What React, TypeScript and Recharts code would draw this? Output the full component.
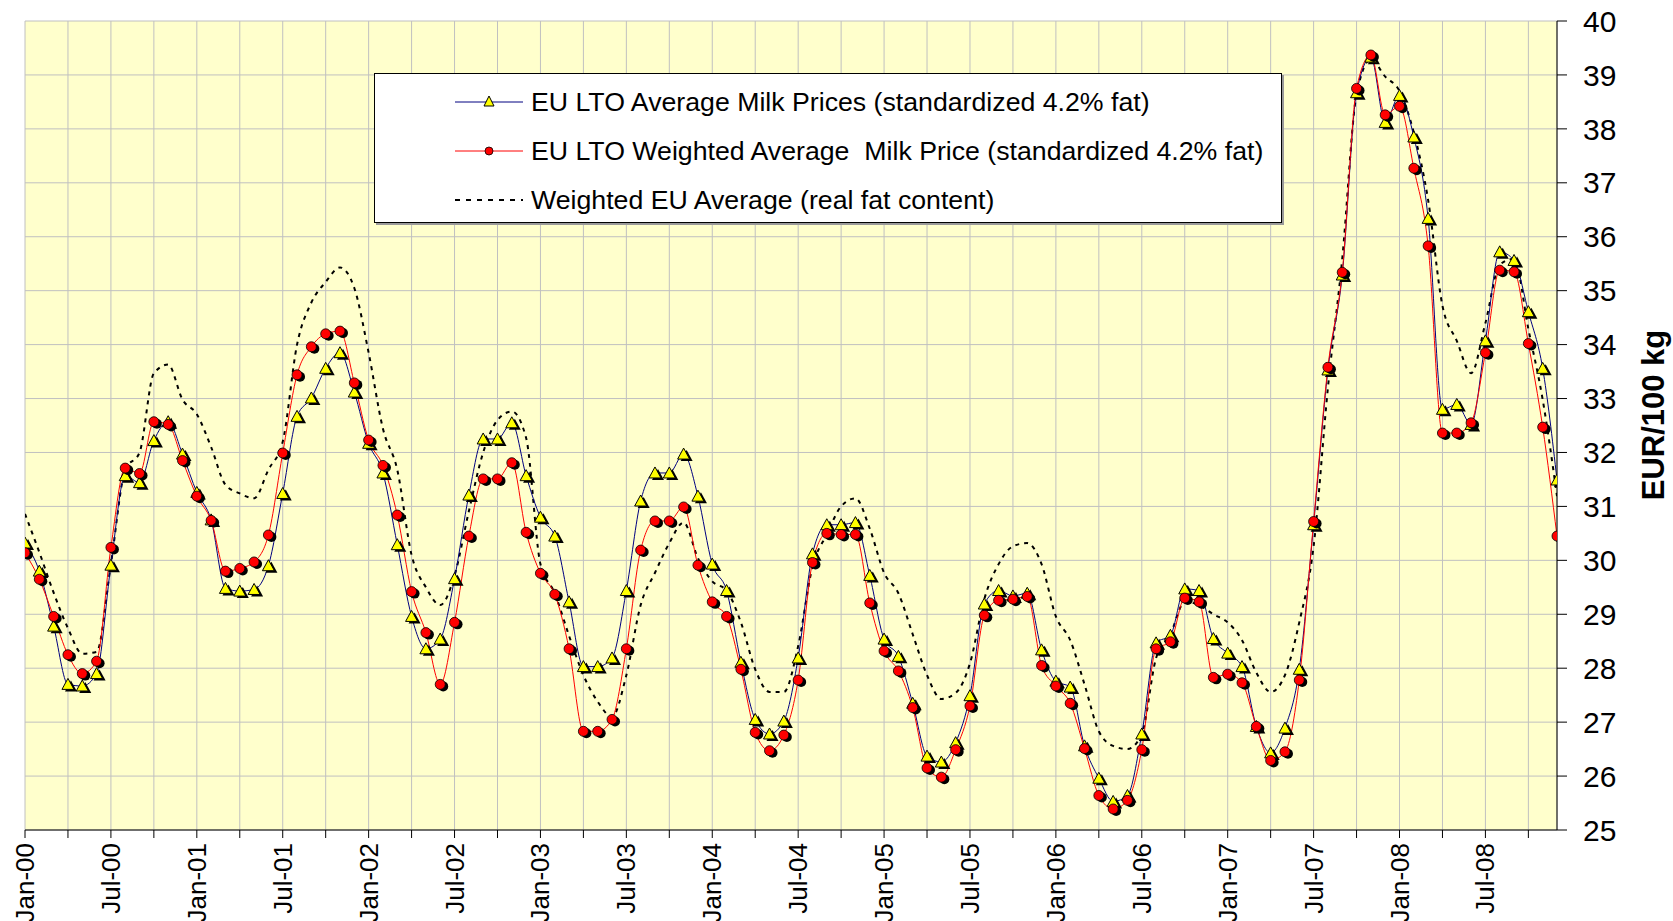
import React from 'react';
import { LineChart, Line, XAxis, YAxis, CartesianGrid, Label } from 'recharts';

// month index 0 = Jan-00 ... 107 = Dec-08
const tickLabels = [
  'Jan-00', 'Jul-00', 'Jan-01', 'Jul-01', 'Jan-02', 'Jul-02', 'Jan-03', 'Jul-03', 'Jan-04',
  'Jul-04', 'Jan-05', 'Jul-05', 'Jan-06', 'Jul-06', 'Jan-07', 'Jul-07', 'Jan-08', 'Jul-08',
];
const quarterTicks = [
  0, 3, 6, 9, 12, 15, 18, 21, 24, 27, 30, 33, 36, 39, 42, 45, 48, 51, 54, 57, 60, 63, 66, 69,
  72, 75, 78, 81, 84, 87, 90, 93, 96, 99, 102, 105,
];
const yTicks = [25, 26, 27, 28, 29, 30, 31, 32, 33, 34, 35, 36, 37, 38, 39, 40];

const avgStd = [
  30.32, 29.8, 28.78, 27.7, 27.67, 27.9, 29.91, 31.57, 31.44, 32.22, 32.57, 31.97,
  31.26, 30.75, 29.48, 29.43, 29.46, 29.9, 31.24, 32.67, 33.01, 33.56, 33.85, 33.12,
  32.17, 31.62, 30.29, 28.96, 28.36, 28.54, 29.66, 31.21, 32.25, 32.25, 32.55, 31.57,
  30.8, 30.45, 29.23, 28.03, 28.03, 28.19, 29.44, 31.1, 31.62, 31.62, 31.97, 31.19,
  29.93, 29.44, 28.11, 27.05, 26.78, 27.02, 28.19, 30.12, 30.66, 30.66, 30.7, 29.72,
  28.54, 28.22, 27.35, 26.37, 26.26, 26.62, 27.49, 29.19, 29.44, 29.34, 29.39, 28.34,
  27.76, 27.65, 26.56, 25.96, 25.53, 25.64, 26.78, 28.47, 28.61, 29.47, 29.44, 28.55,
  28.28, 28.03, 26.92, 26.43, 26.89, 27.98, 30.66, 33.53, 35.29, 38.67, 39.33, 38.12,
  38.62, 37.85, 36.34, 32.8, 32.89, 32.52, 34.07, 35.72, 35.56, 34.61, 33.56, 31.49,
];

const weightedStd = [
  30.14, 29.65, 28.96, 28.25, 27.9, 28.13, 30.24, 31.71, 31.61, 32.57, 32.52, 31.85,
  31.19, 30.74, 29.8, 29.85, 29.97, 30.47, 31.99, 33.44, 33.96, 34.2, 34.25, 33.29,
  32.23, 31.76, 30.84, 29.42, 28.66, 27.7, 28.85, 30.45, 31.51, 31.51, 31.81, 30.52,
  29.76, 29.37, 28.36, 26.83, 26.83, 27.05, 28.36, 30.19, 30.73, 30.73, 30.99, 29.91,
  29.23, 28.96, 27.98, 26.81, 26.47, 26.76, 27.78, 29.96, 30.5, 30.48, 30.48, 29.21,
  28.32, 27.95, 27.27, 26.15, 25.98, 26.49, 27.3, 28.98, 29.26, 29.28, 29.33, 28.05,
  27.67, 27.35, 26.51, 25.64, 25.39, 25.55, 26.49, 28.36, 28.49, 29.3, 29.23, 27.83,
  27.89, 27.73, 26.92, 26.29, 26.45, 27.78, 30.72, 33.58, 35.34, 38.75, 39.37, 38.26,
  38.42, 37.27, 35.83, 32.36, 32.36, 32.55, 33.85, 35.38, 35.35, 34.02, 32.47, 30.45,
];

const weightedReal = [
  30.86, 30.15, 29.4, 28.74, 28.27, 28.3, 29.93, 31.68, 32.0, 33.47, 33.63, 32.98,
  32.71, 32.1, 31.4, 31.24, 31.15, 31.68, 32.2, 34.0, 34.78, 35.16, 35.43, 35.05,
  33.85, 32.44, 31.68, 30.1, 29.5, 29.17, 29.72, 30.91, 32.0, 32.6, 32.76, 32.27,
  29.93, 29.39, 28.6, 27.87, 27.38, 27.1, 27.87, 29.17, 29.77, 30.32, 30.7, 30.04,
  29.61, 29.44, 28.85, 27.98, 27.56, 27.56, 28.41, 29.88, 30.48, 31.0, 31.15, 30.59,
  29.77, 29.39, 28.63, 27.87, 27.43, 27.54, 28.09, 29.28, 29.93, 30.26, 30.32, 29.93,
  28.96, 28.52, 27.7, 26.83, 26.56, 26.5, 26.78, 28.19, 28.63, 29.23, 29.17, 29.0,
  28.85, 28.52, 27.92, 27.56, 27.87, 28.85, 30.26, 33.2, 35.59, 38.64, 39.29, 38.97,
  38.7, 37.93, 36.68, 34.72, 34.07, 33.47, 34.4, 35.48, 35.59, 34.29, 32.98, 31.19,
];

const chartData = avgStd.map((v, i) => ({
  idx: i,
  avgStd: v,
  weightedStd: weightedStd[i],
  weightedReal: weightedReal[i],
}));

const FONT = '"Liberation Sans", Arial, sans-serif';

const TriangleDot = (props: any) => {
  const { cx, cy, index } = props;
  if (cx == null || cy == null) return null;
  const tri = (x: number, y: number) => `${x},${y - 6} ${x - 6},${y + 5} ${x + 6},${y + 5}`;
  return (
    <g key={`t-${index}`}>
      <polygon points={tri(cx + 3, cy + 2)} fill="#000" />
      <polygon points={tri(cx, cy)} fill="#FFFF00" stroke="#000" strokeWidth={1} />
    </g>
  );
};

const CircleDot = (props: any) => {
  const { cx, cy, index } = props;
  if (cx == null || cy == null) return null;
  return (
    <g key={`c-${index}`}>
      <circle cx={cx + 3} cy={cy + 2} r={5} fill="#000" />
      <circle cx={cx} cy={cy} r={5} fill="#FF0000" stroke="#000" strokeWidth={0.8} />
    </g>
  );
};

const MonthTick = (props: any) => {
  const { x, y, payload } = props;
  const v = payload.value;
  if (v % 6 !== 0) return null;
  return (
    <text
      transform={`translate(${x},${y + 3}) rotate(-90)`}
      textAnchor="end"
      dominantBaseline="central"
      fontSize={26}
      fontFamily={FONT}
      fill="#000"
    >
      {tickLabels[v / 6]}
    </text>
  );
};

const legendRows = [
  { label: 'EU LTO Average Milk Prices (standardized 4.2% fat)', color: '#000080', marker: 'tri' },
  { label: 'EU LTO Weighted Average  Milk Price (standardized 4.2% fat)', color: '#FF0000', marker: 'circle' },
  { label: 'Weighted EU Average (real fat content)', color: '#000', marker: 'dash' },
];

const ChartLegend = () => (
  <div
    style={{
      position: 'absolute',
      left: 374,
      top: 73,
      width: 906,
      height: 148,
      background: '#fff',
      border: '1px solid #000',
      boxShadow: '2px 2px 0 #9a9a9a',
      fontFamily: FONT,
    }}
  >
    {legendRows.map((row, i) => (
      <div
        key={row.label}
        style={{ position: 'absolute', left: 0, top: 28 + i * 49 - 18, height: 36, display: 'flex', alignItems: 'center' }}
      >
        <svg width={156} height={36} style={{ display: 'block' }}>
          {row.marker === 'dash' ? (
            <line x1={80} x2={148} y1={18} y2={18} stroke="#000" strokeWidth={2} strokeDasharray="5 6" />
          ) : (
            <line x1={80} x2={148} y1={18} y2={18} stroke={row.color} strokeWidth={1} />
          )}
          {row.marker === 'tri' && (
            <polygon points="114,12 109,22 119,22" fill="#FFFF00" stroke="#000" strokeWidth={1} />
          )}
          {row.marker === 'circle' && <circle cx={114} cy={18} r={4} fill="#FF0000" stroke="#000" strokeWidth={0.8} />}
        </svg>
        <span style={{ fontSize: 26.7, color: '#000', whiteSpace: 'pre', marginLeft: 0 }}>{row.label}</span>
      </div>
    ))}
  </div>
);

const App: React.FC = () => {
  return (
    <div style={{ position: 'absolute', left: 0, top: 0, width: 1673, height: 921, background: '#fff', fontFamily: FONT }}>
      <LineChart width={1673} height={921} data={chartData} margin={{ top: 21, right: 0, bottom: 0, left: 25 }}>
        <CartesianGrid fill="#FFFFCC" stroke="#C0C0C0" strokeWidth={1} />
        <XAxis
          dataKey="idx"
          type="number"
          domain={[0, 107]}
          ticks={quarterTicks}
          interval={0}
          height={91}
          tickSize={8}
          tickMargin={2}
          stroke="#000"
          tick={<MonthTick />}
          allowDataOverflow
        />
        <YAxis
          orientation="right"
          domain={[25, 40]}
          ticks={yTicks}
          interval={0}
          width={116}
          tickSize={10}
          tickMargin={16}
          stroke="#000"
          tick={{ fill: '#000', fontSize: 30, fontFamily: FONT, textAnchor: 'start' }}
          allowDataOverflow
        >
          <Label
            content={() => (
              <text
                transform="translate(1653,415) rotate(-90)"
                textAnchor="middle"
                dominantBaseline="central"
                fontSize={31}
                fontWeight="bold"
                fontFamily={FONT}
                fill="#000"
              >
                EUR/100 kg
              </text>
            )}
          />
        </YAxis>
        <Line
          type="monotone"
          dataKey="weightedReal"
          stroke="#000"
          strokeWidth={2}
          strokeDasharray="4 5"
          dot={false}
          activeDot={false}
          isAnimationActive={false}
        />
        <Line
          type="monotone"
          dataKey="avgStd"
          stroke="#000080"
          strokeWidth={1}
          dot={<TriangleDot />}
          activeDot={false}
          isAnimationActive={false}
        />
        <Line
          type="monotone"
          dataKey="weightedStd"
          stroke="#FF0000"
          strokeWidth={1}
          dot={<CircleDot />}
          activeDot={false}
          isAnimationActive={false}
        />
      </LineChart>
      <ChartLegend />
    </div>
  );
};

export default App;
